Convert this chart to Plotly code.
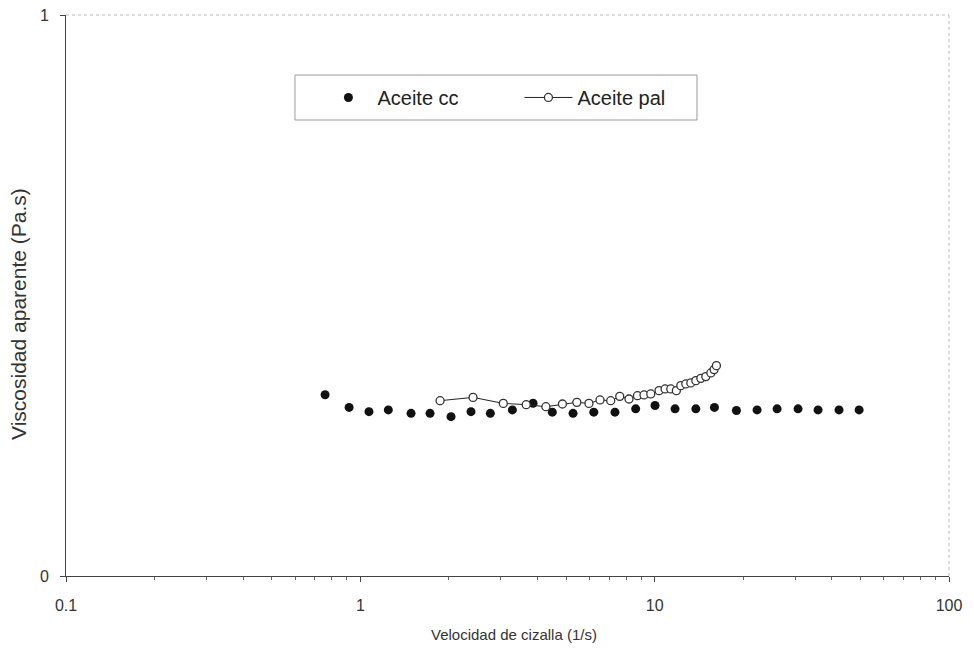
import plotly.graph_objects as go

# Aceite cc (filled points)
cc_x = [0.759, 0.916, 1.07, 1.245, 1.487, 1.725, 2.033, 2.377, 2.765, 3.285, 3.863, 4.49,
        5.28, 6.21, 7.33, 8.62, 10.03, 11.73, 13.8, 15.96, 18.96, 22.28, 26.06, 30.7,
        35.9, 42.3, 49.5]
cc_y = [0.323, 0.3005, 0.293, 0.296, 0.290, 0.290, 0.284, 0.293, 0.290, 0.296, 0.308, 0.292,
        0.290, 0.292, 0.292, 0.298, 0.304, 0.298, 0.298, 0.3005, 0.295, 0.296, 0.298, 0.298,
        0.296, 0.296, 0.296]

# Aceite pal (open circles with line)
pal_x = [1.866, 2.415, 3.06, 3.66, 4.27, 4.86, 5.44, 5.98, 6.52, 7.09, 7.61, 8.18, 8.74,
         9.20, 9.70, 10.35, 10.85, 11.34, 11.85, 12.27, 12.76, 13.27, 13.80, 14.35, 14.92,
         15.52, 15.92, 16.21]
pal_y = [0.3125, 0.3184, 0.3077, 0.3054, 0.3018, 0.3066, 0.3095, 0.3077, 0.3138, 0.3125,
         0.3202, 0.3155, 0.3214, 0.3227, 0.3245, 0.3304, 0.3334, 0.3334, 0.3304, 0.3393,
         0.3423, 0.3441, 0.3482, 0.3523, 0.3554, 0.3620, 0.3679, 0.3750]

x_ticks = [0.1, 1, 10, 100]
x_ticktext = ["0.1", "1", "10", "100"]
x_minor = [m * d for d in (0.1, 1, 10) for m in range(2, 10)]
y_ticks = [0, 1]
y_ticktext = ["0", "1"]
x_title = "Velocidad de cizalla (1/s)"
y_title = "Viscosidad aparente (Pa.s)"

FONT = "Liberation Sans, Arial, sans-serif"

fig = go.Figure()
fig.add_trace(go.Scatter(
    x=cc_x, y=cc_y, mode="markers", name="Aceite cc",
    marker=dict(symbol="circle", size=9, color="#111111"),
))
fig.add_trace(go.Scatter(
    x=pal_x, y=pal_y, mode="lines+markers", name="Aceite pal",
    line=dict(color="#222222", width=1),
    marker=dict(symbol="circle", size=8, color="white", line=dict(color="#333333", width=1.3)),
))

fig.update_layout(
    width=966, height=646,
    margin=dict(l=58, r=25, t=7, b=78, autoexpand=False),
    paper_bgcolor="white", plot_bgcolor="white",
    font=dict(family=FONT, size=15, color="#333333"),
    showlegend=True,
    legend=dict(
        orientation="h", x=0.287, xanchor="left", y=0.853, yanchor="middle",
        bgcolor="rgba(0,0,0,0)", borderwidth=0,
        font=dict(family=FONT, size=20, color="#222222"),
        itemwidth=48, entrywidth=137,
    ),
    shapes=[
        dict(type="rect", xref="paper", yref="paper", x0=0.2593, x1=0.7146, y0=0.8128, y1=0.893,
             line=dict(color="#9a9a9a", width=1), fillcolor="white", layer="below"),
        dict(type="line", xref="paper", yref="paper", x0=0, x1=1, y0=1, y1=1,
             line=dict(color="#bbbbbb", width=1, dash="dot")),
        dict(type="line", xref="paper", yref="paper", x0=1, x1=1, y0=0, y1=1,
             line=dict(color="#bbbbbb", width=1, dash="dot")),
    ],
    annotations=[
        dict(text=x_title, xref="paper", yref="paper", x=0.5075, y=-0.1034,
             xanchor="center", yanchor="middle", showarrow=False,
             font=dict(family=FONT, size=15, color="#333333")),
        dict(text=y_title, xref="paper", yref="paper", x=-0.0544, y=0.467, textangle=-90,
             xanchor="center", yanchor="middle", showarrow=False,
             font=dict(family=FONT, size=21, color="#333333")),
    ],
)

fig.update_xaxes(
    type="log", range=[-1, 2], automargin=False, ticklabeloverflow="allow",
    tickmode="array", tickvals=x_ticks, ticktext=x_ticktext,
    ticks="outside", ticklen=5, tickcolor="#444444", ticklabelstandoff=10,
    minor=dict(tickmode="array", tickvals=x_minor, ticks="outside", ticklen=3, tickcolor="#666666", showgrid=False),
    showgrid=False, zeroline=False,
    showline=True, linecolor="#444444", linewidth=1,
    tickfont=dict(family=FONT, size=16, color="#333333"),
)
fig.update_yaxes(
    range=[0, 1], automargin=False, ticklabeloverflow="allow",
    tickmode="array", tickvals=y_ticks, ticktext=y_ticktext,
    ticks="outside", ticklen=5, tickcolor="#444444", ticklabelstandoff=8,
    showgrid=False, zeroline=False,
    showline=True, linecolor="#444444", linewidth=1,
    tickfont=dict(family=FONT, size=16, color="#333333"),
)

fig.write_html("out.html")
